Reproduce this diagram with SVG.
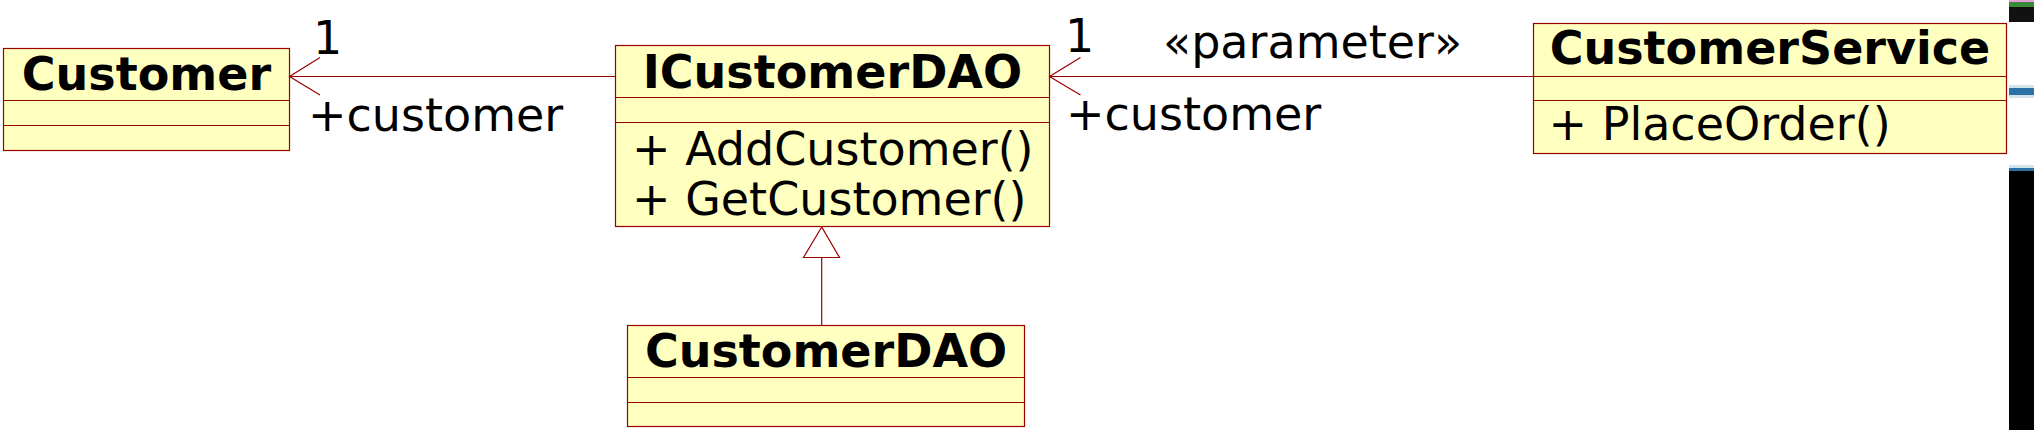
<svg xmlns="http://www.w3.org/2000/svg" width="2034" height="430" viewBox="0 0 2034 430">
<style>
.box{fill:#ffffc0;stroke:#990000;stroke-width:1.2}
.div{stroke:#990000;stroke-width:1.2}
.name{font-family:"DejaVu Sans",sans-serif;font-weight:bold;font-size:46px;fill:#000;text-anchor:middle}
.t{font-family:"DejaVu Sans",sans-serif;font-size:46px;fill:#000}
.ln{fill:none;stroke:#990000;stroke-width:1.2}
</style>
<rect width="2034" height="430" fill="#fff"/>
<g id="Customer">
<rect class="box" x="3.5" y="48.5" width="286" height="102"/>
<line class="div" x1="3.5" y1="100.5" x2="289.5" y2="100.5"/>
<line class="div" x1="3.5" y1="125.5" x2="289.5" y2="125.5"/>
<text class="name" x="146.5" y="90">Customer</text>
</g>
<g id="ICustomerDAO">
<rect class="box" x="615.5" y="45.5" width="434" height="181"/>
<line class="div" x1="615.5" y1="97.5" x2="1049.5" y2="97.5"/>
<line class="div" x1="615.5" y1="122.5" x2="1049.5" y2="122.5"/>
<text class="name" x="832.4" y="88">ICustomerDAO</text>
<text class="t" x="632" y="165">+ AddCustomer()</text>
<text class="t" x="632" y="215">+ GetCustomer()</text>
</g>
<g id="CustomerDAO">
<rect class="box" x="627.5" y="325.5" width="397" height="101"/>
<line class="div" x1="627.5" y1="377.5" x2="1024.5" y2="377.5"/>
<line class="div" x1="627.5" y1="402.5" x2="1024.5" y2="402.5"/>
<text class="name" x="826" y="366.7">CustomerDAO</text>
</g>
<g id="CustomerService">
<rect class="box" x="1533.5" y="23.5" width="473" height="130"/>
<line class="div" x1="1533.5" y1="76.5" x2="2006.5" y2="76.5"/>
<line class="div" x1="1533.5" y1="100.5" x2="2006.5" y2="100.5"/>
<text class="name" x="1770" y="64.3">CustomerService</text>
<text class="t" x="1548.5" y="140">+ PlaceOrder()</text>
</g>
<g id="connectors">
<line class="ln" x1="289.5" y1="76.5" x2="615.5" y2="76.5"/>
<polyline class="ln" points="320,57.5 289.5,76.5 320,95"/>
<line class="ln" x1="1049.5" y1="76.5" x2="1533.5" y2="76.5"/>
<polyline class="ln" points="1080.5,57.5 1049.5,76.5 1080.5,95"/>
<polygon class="ln" points="821.7,227 803.5,257.5 839.5,257.5" fill="#fff"/>
<line class="ln" x1="821.7" y1="257.5" x2="821.7" y2="325.5"/>
<text class="t" x="313" y="54">1</text>
<text class="t" x="308" y="131">+customer</text>
<text class="t" x="1065" y="52">1</text>
<text class="t" x="1163" y="58">«parameter»</text>
<text class="t" x="1066" y="129.5">+customer</text>
</g>
<g id="edge-artifact">
<rect x="2009" y="0" width="25" height="2" fill="#e8a0d8"/>
<rect x="2009" y="2" width="25" height="5" fill="#3a8a3a"/>
<rect x="2009" y="7" width="25" height="15" fill="#111"/>
<rect x="2009" y="85" width="25" height="13" fill="#d4e2ec"/>
<rect x="2009" y="88" width="25" height="7" fill="#2b73a4"/>
<rect x="2009" y="165" width="25" height="3" fill="#d4e2ec"/>
<rect x="2009" y="168" width="25" height="3" fill="#2b73a4"/>
<rect x="2009" y="171" width="25" height="259" fill="#000"/>
</g>
</svg>
